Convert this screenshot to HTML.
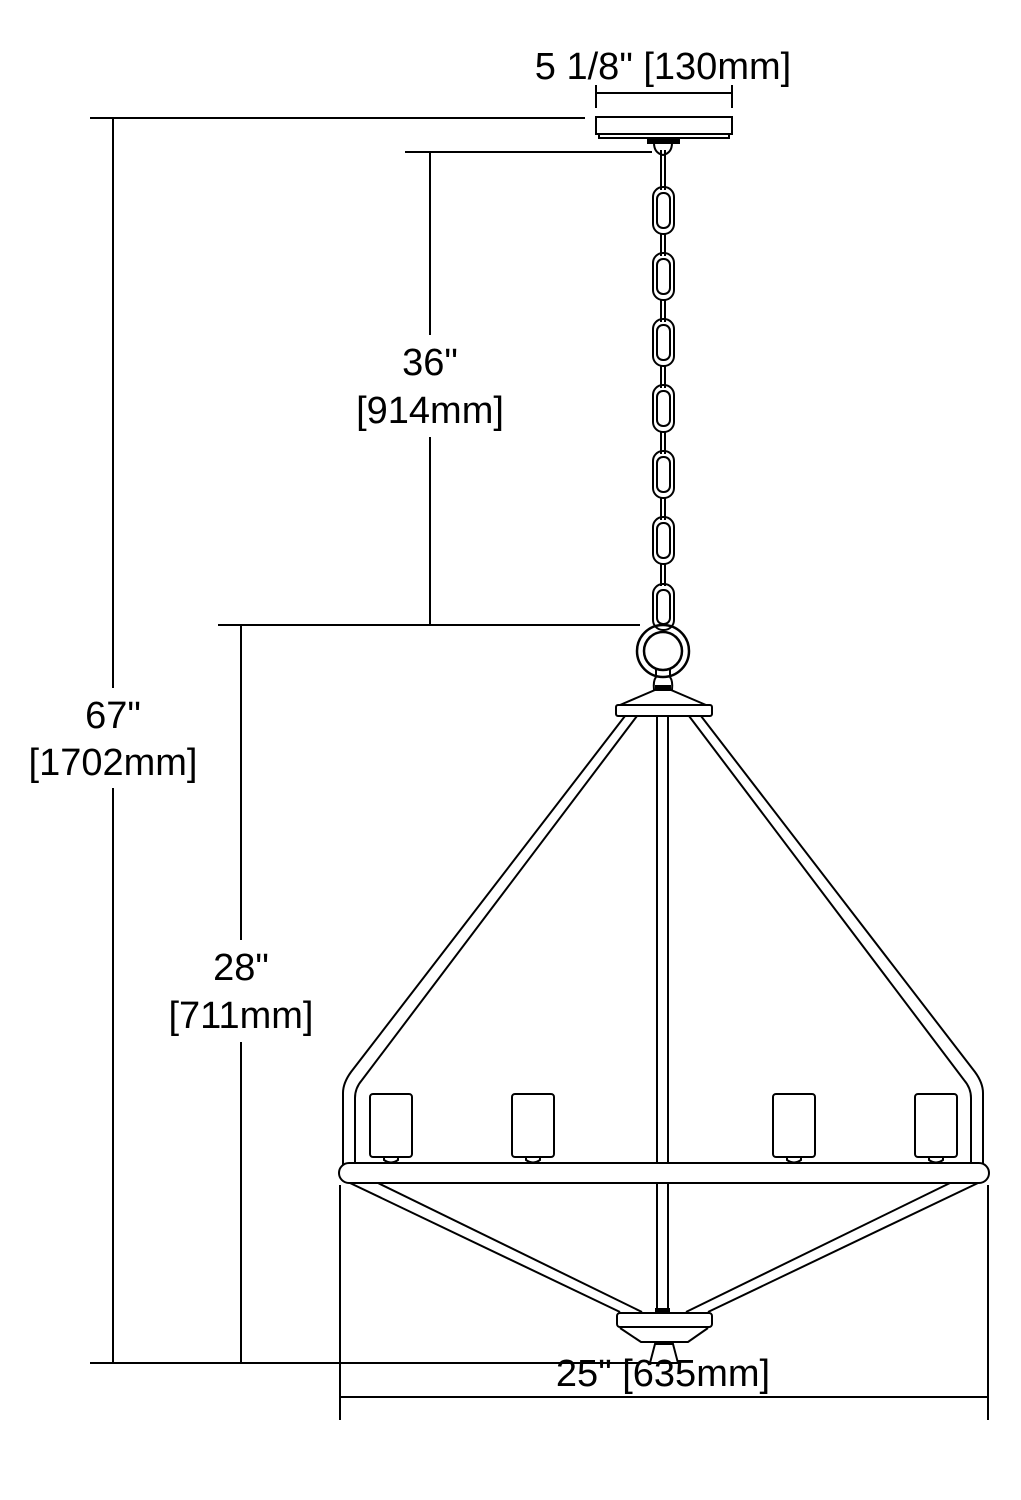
<!DOCTYPE html>
<html><head><style>body{margin:0;background:#fff}svg{display:block}text{font-family:"Liberation Sans",sans-serif;font-size:38px;fill:#000;text-anchor:middle}</style></head>
<body>
<svg width="1021" height="1500" viewBox="0 0 1021 1500" xmlns="http://www.w3.org/2000/svg">
<g stroke="#000" stroke-width="2" fill="none">
<!-- dims -->
<line x1="596" y1="85" x2="596" y2="108"/><line x1="732" y1="85" x2="732" y2="108"/><line x1="596" y1="93" x2="732" y2="93"/>
<line x1="90" y1="118" x2="585" y2="118"/><line x1="113" y1="118" x2="113" y2="688"/><line x1="113" y1="788" x2="113" y2="1363"/>
<line x1="90" y1="1363" x2="640" y2="1363"/>
<line x1="405" y1="152" x2="652" y2="152"/><line x1="430" y1="152" x2="430" y2="335"/><line x1="430" y1="437" x2="430" y2="625"/>
<line x1="218" y1="625" x2="640" y2="625"/><line x1="241" y1="625" x2="241" y2="940"/><line x1="241" y1="1042" x2="241" y2="1363"/>
<line x1="340" y1="1185" x2="340" y2="1420"/><line x1="988" y1="1185" x2="988" y2="1420"/><line x1="340" y1="1397" x2="988" y2="1397"/>
<!-- canopy -->
<rect x="596" y="117" width="136" height="17" fill="#fff"/><rect x="599" y="134" width="130" height="4"/>
<rect x="648" y="138" width="31" height="5" fill="#000"/>
<path d="M654 143 q0 10 9 12 q9-2 9-12"/>
<!-- chain -->
<line x1="661" y1="150" x2="661" y2="190"/><line x1="665" y1="150" x2="665" y2="190"/>
<g id="lk"><rect x="653" y="187" width="21" height="47" rx="10"/><rect x="657" y="193" width="13" height="35" rx="6"/><line x1="661" y1="234" x2="661" y2="256"/><line x1="665" y1="234" x2="665" y2="256"/></g>
<use href="#lk" y="66"/><use href="#lk" y="132"/><use href="#lk" y="198"/><use href="#lk" y="264"/><use href="#lk" y="330"/>
<rect x="653" y="584" width="21" height="46" rx="10"/><rect x="657" y="590" width="13" height="34" rx="6"/>
<!-- ring -->
<circle cx="663" cy="651" r="26" stroke-width="2.5"/><circle cx="663" cy="651" r="19" stroke-width="2.5"/>
<path d="M656 669 v8 q-3 4 -2 13 h18 q1-9 -2-13 v-8"/>
<rect x="656" y="686" width="14" height="4" fill="#000"/>
<path d="M620 705 L655 690 H671 L706 705 Z" fill="#fff"/>
<rect x="616" y="705" width="96" height="11" rx="2" fill="#fff"/>
<!-- rod -->
<rect x="657" y="716" width="11" height="597" fill="#fff"/>
<!-- arms -->
<path d="M625 716 L351 1072 Q343 1083 343 1093 V1165"/>
<path d="M637 716 L362 1080 Q355 1088 355 1098 V1163"/>
<path d="M701 716 L975 1072 Q983 1083 983 1093 V1165"/>
<path d="M689 716 L964 1080 Q971 1088 971 1098 V1163"/>
<!-- ring bar -->
<rect x="339" y="1163" width="650" height="20" rx="10" fill="#fff"/>
<!-- cups -->
<g id="cp"><rect x="370" y="1094" width="42" height="63" rx="3"/><path d="M384 1157 v3 q7 5 14 0 v-3"/></g>
<use href="#cp" x="142"/><use href="#cp" x="403"/><use href="#cp" x="545"/>
<!-- lower arms -->
<path d="M350 1183 L620 1312"/><path d="M378 1183 L642 1312"/>
<path d="M978 1183 L708 1312"/><path d="M950 1183 L686 1312"/>
<!-- bottom -->
<rect x="656" y="1309" width="13" height="5" fill="#000"/>
<rect x="617" y="1313" width="95" height="14" rx="3" fill="#fff"/>
<path d="M620 1328 L641 1342 H688 L708 1328"/>
<path d="M655 1344 L650 1363 H678 L673 1344 Z"/>
</g>
<g>
<text x="663" y="79">5 1/8" [130mm]</text>
<text x="113" y="728">67"</text><text x="113" y="775">[1702mm]</text>
<text x="430" y="375">36"</text><text x="430" y="423">[914mm]</text>
<text x="241" y="980">28"</text><text x="241" y="1028">[711mm]</text>
<text x="663" y="1386">25" [635mm]</text>
</g>
</svg>
</body></html>
